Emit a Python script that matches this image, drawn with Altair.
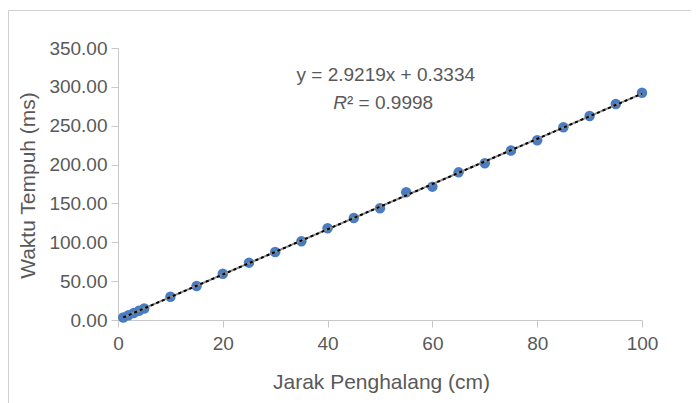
import altair as alt
import pandas as pd

# Data
jarak = [1, 2, 3, 4, 5, 10, 15, 20, 25, 30, 35, 40, 45, 50, 55, 60, 65, 70, 75, 80, 85, 90, 95, 100]
waktu = [3.2, 6.1, 9.0, 12.0, 14.9, 30.0, 43.8, 59.6, 73.8, 87.5, 101.3, 118.0, 131.3, 143.8,
         164.3, 171.6, 190.0, 201.7, 218.0, 231.3, 248.0, 262.5, 278.0, 292.5]
y_ticks = [0, 50, 100, 150, 200, 250, 300, 350]
x_ticks = [0, 20, 40, 60, 80, 100]
eq_text = "y = 2.9219x + 0.3334"
r2_label = "R"
r2_text = "² = 0.9998"

df = pd.DataFrame({"x": jarak, "y": waktu})

FONT = "Liberation Sans"
GRAY = "#595959"
AXC = "#c8c8c8"

xscale = alt.Scale(domain=[0, 100], nice=False, zero=True)
yscale = alt.Scale(domain=[0, 350], nice=False)

xaxis = alt.Axis(values=x_ticks, grid=False, domainColor=AXC, tickColor=AXC, tickSize=7,
                 labelColor=GRAY, labelFont=FONT, labelFontSize=19, labelPadding=7,
                 labelFlush=False, labelOverlap=False,
                 title="Jarak Penghalang (cm)", titleColor=GRAY, titleFont=FONT,
                 titleFontSize=21, titleFontWeight="normal", titleX=263, titleY=62,
                 titleBaseline="middle", titleAlign="center")
yaxis = alt.Axis(values=y_ticks, format=".2f", grid=False, domainColor=AXC, tickColor=AXC,
                 tickSize=7, labelColor=GRAY, labelFont=FONT, labelFontSize=19,
                 labelPadding=4, labelFlush=False, labelOverlap=False,
                 title="Waktu Tempuh (ms)", titleColor=GRAY, titleFont=FONT,
                 titleFontSize=21, titleFontWeight="normal", titleX=-90, titleY=137,
                 titleAngle=-90, titleBaseline="middle", titleAlign="center")


def X(field="x"):
    return alt.X(f"{field}:Q", scale=xscale, axis=xaxis)


def Y(field="y"):
    return alt.Y(f"{field}:Q", scale=yscale, axis=yaxis)


base = alt.Chart(df)

points = base.mark_point(filled=True, size=110, color="#4a7dc0", opacity=1).encode(
    x=X(), y=Y())

frame = base.mark_rect(fill=None, stroke="#d0d0d0", strokeWidth=1).encode(
    x=alt.value(-109.5), x2=alt.value(700), y=alt.value(-37.5), y2=alt.value(500)
).transform_filter("datum.x == 1")

reg = base.transform_regression("x", "y")
trend_under = reg.mark_line(color="#8c8c8c", strokeWidth=2).encode(x=X(), y=Y())
trend = reg.mark_line(color="#000000", strokeWidth=2, strokeDash=[3, 3]).encode(x=X(), y=Y())

one = base.transform_filter("datum.x == 1")
eq = one.mark_text(font=FONT, fontSize=19, color=GRAY, align="center", baseline="middle").encode(
    x=alt.datum(51.1, scale=xscale, axis=xaxis), y=alt.datum(315.3, scale=yscale, axis=yaxis),
    text=alt.value(eq_text))
r_it = one.mark_text(font=FONT, fontSize=19, color=GRAY, align="right", baseline="middle",
                     fontStyle="italic").encode(
    x=alt.datum(43.7, scale=xscale, axis=xaxis), y=alt.datum(279.2, scale=yscale, axis=yaxis),
    text=alt.value(r2_label))
r_rest = one.mark_text(font=FONT, fontSize=19, color=GRAY, align="left", baseline="middle").encode(
    x=alt.datum(43.7, scale=xscale, axis=xaxis), y=alt.datum(279.2, scale=yscale, axis=yaxis),
    text=alt.value(r2_text))

chart = alt.layer(points, frame, trend_under, trend, eq, r_it, r_rest).properties(
    width=524, height=272,
    autosize=alt.AutoSizeParams(type="none"),
    padding={"left": 110, "top": 40, "right": 49, "bottom": 87},
    background="white",
).configure_view(stroke=None)

chart.save("out.html", embed_options={"renderer": "svg", "actions": False})
